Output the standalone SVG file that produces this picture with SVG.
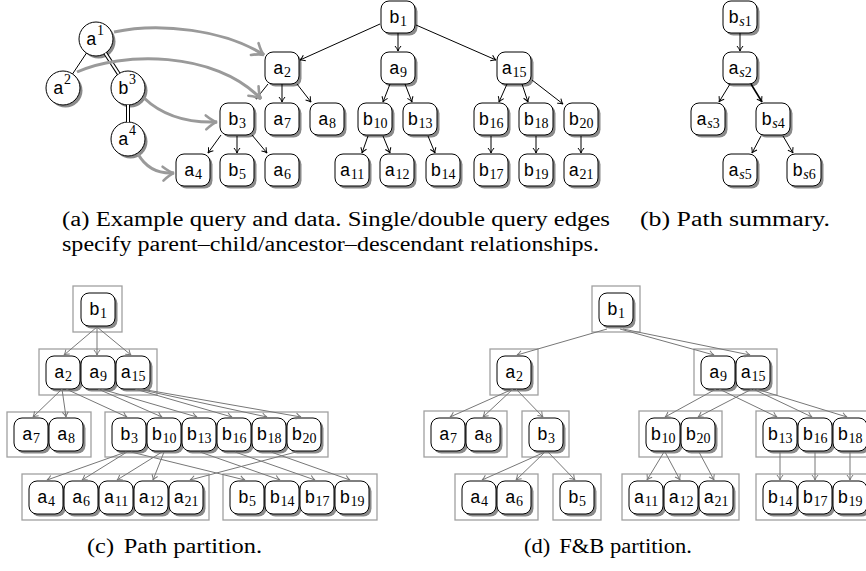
<svg xmlns="http://www.w3.org/2000/svg" xmlns:xlink="http://www.w3.org/1999/xlink" width="866" height="571" viewBox="0 0 866 571">
<style>
.nd{fill:#fff;stroke:#000;stroke-width:1}
.sh{fill:#8a8a8a;stroke:none}
.lb{font-family:"Liberation Mono",monospace;font-size:18px;text-anchor:middle;fill:#000}
.sb{font-family:"Liberation Serif",serif;font-size:14px}
.it{font-style:italic}
.grp{fill:none;stroke:#a0a0a0;stroke-width:1.3}
.be{stroke:#000;stroke-width:1;fill:none;marker-end:url(#mb)}
.ge{stroke:#777;stroke-width:1;fill:none;marker-end:url(#mg)}
.qe{stroke:#9a9a9a;stroke-width:3;fill:none;marker-end:url(#mq)}
.ql{stroke:#000;stroke-width:1;fill:none}
.qd{stroke:#000;stroke-width:4;fill:none}
.qw{stroke:#fff;stroke-width:2;fill:none}
.cap{font-family:"Liberation Serif",serif;font-size:20px;fill:#000}
</style>
<defs>
<marker id="mb" viewBox="-7 -5 9 10" refX="0" refY="0" markerWidth="9" markerHeight="10" markerUnits="userSpaceOnUse" orient="auto"><path d="M-5,-3 Q-2,-0.5 0,0 Q-2,0.5 -5,3" fill="none" stroke="#000" stroke-width="1"/></marker>
<marker id="mg" viewBox="-7 -5 9 10" refX="0" refY="0" markerWidth="9" markerHeight="10" markerUnits="userSpaceOnUse" orient="auto"><path d="M-5,-3 Q-2,-0.5 0,0 Q-2,0.5 -5,3" fill="none" stroke="#777" stroke-width="1"/></marker>
<marker id="mq" viewBox="-14 -10 17 20" refX="0" refY="0" markerWidth="17" markerHeight="20" markerUnits="userSpaceOnUse" orient="auto"><path d="M-11,-7 Q-4,-1 0,0 Q-4,1 -11,7" fill="none" stroke="#9a9a9a" stroke-width="2.6" stroke-linecap="round"/></marker>
<g id="bx"><rect class="sh" x="2.5" y="2.5" width="34" height="32" rx="8"/><rect class="nd" width="34" height="32" rx="8"/></g>
<g id="bx2"><rect class="sh" x="2.5" y="2.5" width="34" height="33" rx="8"/><rect class="nd" width="34" height="33" rx="8"/></g>
<g id="qc"><circle class="sh" cx="2.5" cy="2.5" r="17"/><circle class="nd" r="17"/></g>
</defs>
<rect width="866" height="571" fill="#fff"/>

<!-- (a) query nodes -->
<g id="q-a1" transform="translate(96,39)"><use xlink:href="#qc"/><text class="lb" x="-1" y="6">a<tspan class="sb" dy="-10">1</tspan></text></g>
<g id="q-a2" transform="translate(63,88)"><use xlink:href="#qc"/><text class="lb" x="-1" y="6">a<tspan class="sb" dy="-10">2</tspan></text></g>
<g id="q-b3" transform="translate(128,88)"><use xlink:href="#qc"/><text class="lb" x="-1" y="6">b<tspan class="sb" dy="-10">3</tspan></text></g>
<g id="q-a4" transform="translate(128,139)"><use xlink:href="#qc"/><text class="lb" x="-1" y="6">a<tspan class="sb" dy="-10">4</tspan></text></g>

<!-- (a) data nodes -->
<g id="a-b1" transform="translate(381,1)"><use xlink:href="#bx"/><text class="lb" x="17" y="22">b<tspan class="sb" dy="3">1</tspan></text></g>
<g id="a-a2" transform="translate(265,52)"><use xlink:href="#bx"/><text class="lb" x="17" y="22">a<tspan class="sb" dy="3">2</tspan></text></g>
<g id="a-a9" transform="translate(381,52)"><use xlink:href="#bx"/><text class="lb" x="17" y="22">a<tspan class="sb" dy="3">9</tspan></text></g>
<g id="a-a15" transform="translate(497,52)"><use xlink:href="#bx"/><text class="lb" x="17" y="22">a<tspan class="sb" dy="3">15</tspan></text></g>
<g id="a-b3" transform="translate(220,103)"><use xlink:href="#bx"/><text class="lb" x="17" y="22">b<tspan class="sb" dy="3">3</tspan></text></g>
<g id="a-a7" transform="translate(265,103)"><use xlink:href="#bx"/><text class="lb" x="17" y="22">a<tspan class="sb" dy="3">7</tspan></text></g>
<g id="a-a8" transform="translate(310,103)"><use xlink:href="#bx"/><text class="lb" x="17" y="22">a<tspan class="sb" dy="3">8</tspan></text></g>
<g id="a-b10" transform="translate(358,103)"><use xlink:href="#bx"/><text class="lb" x="17" y="22">b<tspan class="sb" dy="3">10</tspan></text></g>
<g id="a-b13" transform="translate(403,103)"><use xlink:href="#bx"/><text class="lb" x="17" y="22">b<tspan class="sb" dy="3">13</tspan></text></g>
<g id="a-b16" transform="translate(474,103)"><use xlink:href="#bx"/><text class="lb" x="17" y="22">b<tspan class="sb" dy="3">16</tspan></text></g>
<g id="a-b18" transform="translate(519,103)"><use xlink:href="#bx"/><text class="lb" x="17" y="22">b<tspan class="sb" dy="3">18</tspan></text></g>
<g id="a-b20" transform="translate(564,103)"><use xlink:href="#bx"/><text class="lb" x="17" y="22">b<tspan class="sb" dy="3">20</tspan></text></g>
<g id="a-a4" transform="translate(176,154)"><use xlink:href="#bx"/><text class="lb" x="17" y="22">a<tspan class="sb" dy="3">4</tspan></text></g>
<g id="a-b5" transform="translate(220,154)"><use xlink:href="#bx"/><text class="lb" x="17" y="22">b<tspan class="sb" dy="3">5</tspan></text></g>
<g id="a-a6" transform="translate(265,154)"><use xlink:href="#bx"/><text class="lb" x="17" y="22">a<tspan class="sb" dy="3">6</tspan></text></g>
<g id="a-a11" transform="translate(335,154)"><use xlink:href="#bx"/><text class="lb" x="17" y="22">a<tspan class="sb" dy="3">11</tspan></text></g>
<g id="a-a12" transform="translate(380,154)"><use xlink:href="#bx"/><text class="lb" x="17" y="22">a<tspan class="sb" dy="3">12</tspan></text></g>
<g id="a-b14" transform="translate(426,154)"><use xlink:href="#bx"/><text class="lb" x="17" y="22">b<tspan class="sb" dy="3">14</tspan></text></g>
<g id="a-b17" transform="translate(474,154)"><use xlink:href="#bx"/><text class="lb" x="17" y="22">b<tspan class="sb" dy="3">17</tspan></text></g>
<g id="a-b19" transform="translate(519,154)"><use xlink:href="#bx"/><text class="lb" x="17" y="22">b<tspan class="sb" dy="3">19</tspan></text></g>
<g id="a-a21" transform="translate(564,154)"><use xlink:href="#bx"/><text class="lb" x="17" y="22">a<tspan class="sb" dy="3">21</tspan></text></g>

<!-- (b) path summary nodes -->
<g id="b-bs1" transform="translate(723,1)"><use xlink:href="#bx"/><text class="lb" x="17" y="22">b<tspan class="sb" dy="3"><tspan class="it">s</tspan>1</tspan></text></g>
<g id="b-as2" transform="translate(723,52)"><use xlink:href="#bx"/><text class="lb" x="17" y="22">a<tspan class="sb" dy="3"><tspan class="it">s</tspan>2</tspan></text></g>
<g id="b-as3" transform="translate(691,103)"><use xlink:href="#bx"/><text class="lb" x="17" y="22">a<tspan class="sb" dy="3"><tspan class="it">s</tspan>3</tspan></text></g>
<g id="b-bs4" transform="translate(756,103)"><use xlink:href="#bx"/><text class="lb" x="17" y="22">b<tspan class="sb" dy="3"><tspan class="it">s</tspan>4</tspan></text></g>
<g id="b-as5" transform="translate(723,154)"><use xlink:href="#bx"/><text class="lb" x="17" y="22">a<tspan class="sb" dy="3"><tspan class="it">s</tspan>5</tspan></text></g>
<g id="b-bs6" transform="translate(787,154)"><use xlink:href="#bx"/><text class="lb" x="17" y="22">b<tspan class="sb" dy="3"><tspan class="it">s</tspan>6</tspan></text></g>

<!-- partition blocks -->
<g id="blocks">
<rect class="grp" x="73" y="286" width="49" height="46"/>
<rect class="grp" x="39" y="349" width="118" height="46"/>
<rect class="grp" x="7" y="412" width="84" height="45"/>
<rect class="grp" x="105" y="412" width="223" height="45"/>
<rect class="grp" x="22" y="474" width="187" height="46"/>
<rect class="grp" x="223" y="474" width="154" height="46"/>
<rect class="grp" x="592" y="286" width="48" height="46"/>
<rect class="grp" x="490" y="349" width="48" height="46"/>
<rect class="grp" x="694" y="349" width="83" height="46"/>
<rect class="grp" x="424" y="411" width="83" height="46"/>
<rect class="grp" x="522" y="411" width="47" height="46"/>
<rect class="grp" x="639" y="411" width="83" height="46"/>
<rect class="grp" x="756" y="411" width="118" height="46"/>
<rect class="grp" x="455" y="474" width="83" height="46"/>
<rect class="grp" x="553" y="474" width="48" height="46"/>
<rect class="grp" x="622" y="474" width="117" height="46"/>
<rect class="grp" x="756" y="474" width="118" height="46"/>
</g>

<!-- (c) nodes -->
<g id="c-b1" transform="translate(81,293)"><use xlink:href="#bx2"/><text class="lb" x="17" y="22">b<tspan class="sb" dy="3">1</tspan></text></g>
<g id="c-a2" transform="translate(46,356)"><use xlink:href="#bx2"/><text class="lb" x="17" y="22">a<tspan class="sb" dy="3">2</tspan></text></g>
<g id="c-a9" transform="translate(81,356)"><use xlink:href="#bx2"/><text class="lb" x="17" y="22">a<tspan class="sb" dy="3">9</tspan></text></g>
<g id="c-a15" transform="translate(116,356)"><use xlink:href="#bx2"/><text class="lb" x="17" y="22">a<tspan class="sb" dy="3">15</tspan></text></g>
<g id="c-a7" transform="translate(14,418)"><use xlink:href="#bx2"/><text class="lb" x="17" y="22">a<tspan class="sb" dy="3">7</tspan></text></g>
<g id="c-a8" transform="translate(49,418)"><use xlink:href="#bx2"/><text class="lb" x="17" y="22">a<tspan class="sb" dy="3">8</tspan></text></g>
<g id="c-b3" transform="translate(112,418)"><use xlink:href="#bx2"/><text class="lb" x="17" y="22">b<tspan class="sb" dy="3">3</tspan></text></g>
<g id="c-b10" transform="translate(147,418)"><use xlink:href="#bx2"/><text class="lb" x="17" y="22">b<tspan class="sb" dy="3">10</tspan></text></g>
<g id="c-b13" transform="translate(182,418)"><use xlink:href="#bx2"/><text class="lb" x="17" y="22">b<tspan class="sb" dy="3">13</tspan></text></g>
<g id="c-b16" transform="translate(217,418)"><use xlink:href="#bx2"/><text class="lb" x="17" y="22">b<tspan class="sb" dy="3">16</tspan></text></g>
<g id="c-b18" transform="translate(252,418)"><use xlink:href="#bx2"/><text class="lb" x="17" y="22">b<tspan class="sb" dy="3">18</tspan></text></g>
<g id="c-b20" transform="translate(287,418)"><use xlink:href="#bx2"/><text class="lb" x="17" y="22">b<tspan class="sb" dy="3">20</tspan></text></g>
<g id="c-a4" transform="translate(29,481)"><use xlink:href="#bx2"/><text class="lb" x="17" y="22">a<tspan class="sb" dy="3">4</tspan></text></g>
<g id="c-a6" transform="translate(64,481)"><use xlink:href="#bx2"/><text class="lb" x="17" y="22">a<tspan class="sb" dy="3">6</tspan></text></g>
<g id="c-a11" transform="translate(99,481)"><use xlink:href="#bx2"/><text class="lb" x="17" y="22">a<tspan class="sb" dy="3">11</tspan></text></g>
<g id="c-a12" transform="translate(134,481)"><use xlink:href="#bx2"/><text class="lb" x="17" y="22">a<tspan class="sb" dy="3">12</tspan></text></g>
<g id="c-a21" transform="translate(169,481)"><use xlink:href="#bx2"/><text class="lb" x="17" y="22">a<tspan class="sb" dy="3">21</tspan></text></g>
<g id="c-b5" transform="translate(230,481)"><use xlink:href="#bx2"/><text class="lb" x="17" y="22">b<tspan class="sb" dy="3">5</tspan></text></g>
<g id="c-b14" transform="translate(265,481)"><use xlink:href="#bx2"/><text class="lb" x="17" y="22">b<tspan class="sb" dy="3">14</tspan></text></g>
<g id="c-b17" transform="translate(300,481)"><use xlink:href="#bx2"/><text class="lb" x="17" y="22">b<tspan class="sb" dy="3">17</tspan></text></g>
<g id="c-b19" transform="translate(335,481)"><use xlink:href="#bx2"/><text class="lb" x="17" y="22">b<tspan class="sb" dy="3">19</tspan></text></g>

<!-- (d) nodes -->
<g id="d-b1" transform="translate(599,293)"><use xlink:href="#bx2"/><text class="lb" x="17" y="22">b<tspan class="sb" dy="3">1</tspan></text></g>
<g id="d-a2" transform="translate(497,356)"><use xlink:href="#bx2"/><text class="lb" x="17" y="22">a<tspan class="sb" dy="3">2</tspan></text></g>
<g id="d-a9" transform="translate(701,356)"><use xlink:href="#bx2"/><text class="lb" x="17" y="22">a<tspan class="sb" dy="3">9</tspan></text></g>
<g id="d-a15" transform="translate(736,356)"><use xlink:href="#bx2"/><text class="lb" x="17" y="22">a<tspan class="sb" dy="3">15</tspan></text></g>
<g id="d-a7" transform="translate(431,418)"><use xlink:href="#bx2"/><text class="lb" x="17" y="22">a<tspan class="sb" dy="3">7</tspan></text></g>
<g id="d-a8" transform="translate(466,418)"><use xlink:href="#bx2"/><text class="lb" x="17" y="22">a<tspan class="sb" dy="3">8</tspan></text></g>
<g id="d-b3" transform="translate(529,418)"><use xlink:href="#bx2"/><text class="lb" x="17" y="22">b<tspan class="sb" dy="3">3</tspan></text></g>
<g id="d-b10" transform="translate(646,418)"><use xlink:href="#bx2"/><text class="lb" x="17" y="22">b<tspan class="sb" dy="3">10</tspan></text></g>
<g id="d-b20" transform="translate(681,418)"><use xlink:href="#bx2"/><text class="lb" x="17" y="22">b<tspan class="sb" dy="3">20</tspan></text></g>
<g id="d-b13" transform="translate(763,418)"><use xlink:href="#bx2"/><text class="lb" x="17" y="22">b<tspan class="sb" dy="3">13</tspan></text></g>
<g id="d-b16" transform="translate(798,418)"><use xlink:href="#bx2"/><text class="lb" x="17" y="22">b<tspan class="sb" dy="3">16</tspan></text></g>
<g id="d-b18" transform="translate(833,418)"><use xlink:href="#bx2"/><text class="lb" x="17" y="22">b<tspan class="sb" dy="3">18</tspan></text></g>
<g id="d-a4" transform="translate(462,481)"><use xlink:href="#bx2"/><text class="lb" x="17" y="22">a<tspan class="sb" dy="3">4</tspan></text></g>
<g id="d-a6" transform="translate(497,481)"><use xlink:href="#bx2"/><text class="lb" x="17" y="22">a<tspan class="sb" dy="3">6</tspan></text></g>
<g id="d-b5" transform="translate(560,481)"><use xlink:href="#bx2"/><text class="lb" x="17" y="22">b<tspan class="sb" dy="3">5</tspan></text></g>
<g id="d-a11" transform="translate(629,481)"><use xlink:href="#bx2"/><text class="lb" x="17" y="22">a<tspan class="sb" dy="3">11</tspan></text></g>
<g id="d-a12" transform="translate(664,481)"><use xlink:href="#bx2"/><text class="lb" x="17" y="22">a<tspan class="sb" dy="3">12</tspan></text></g>
<g id="d-a21" transform="translate(699,481)"><use xlink:href="#bx2"/><text class="lb" x="17" y="22">a<tspan class="sb" dy="3">21</tspan></text></g>
<g id="d-b14" transform="translate(763,481)"><use xlink:href="#bx2"/><text class="lb" x="17" y="22">b<tspan class="sb" dy="3">14</tspan></text></g>
<g id="d-b17" transform="translate(798,481)"><use xlink:href="#bx2"/><text class="lb" x="17" y="22">b<tspan class="sb" dy="3">17</tspan></text></g>
<g id="d-b19" transform="translate(833,481)"><use xlink:href="#bx2"/><text class="lb" x="17" y="22">b<tspan class="sb" dy="3">19</tspan></text></g>

<!-- connectors -->
<g id="connectors">
<!-- query edges -->
<path class="ql" d="M86.5,53 L72.5,74"/>
<path class="qd" d="M105.3,53.2 L118.7,73.8"/><path class="qw" d="M105.3,53.2 L118.7,73.8"/>
<path class="qd" d="M128,105 L128,122"/><path class="qw" d="M128,105 L128,122"/>
<!-- data tree (a) -->
<path class="be" d="M380,24 L300,60"/>
<path class="be" d="M398,33 L398,51"/>
<path class="be" d="M416,25 L496,60"/>
<path class="be" d="M268,84 L256,99"/>
<path class="be" d="M282,84 L282,102"/>
<path class="be" d="M297,84 L311,102"/>
<path class="be" d="M390,84 L383,102"/>
<path class="be" d="M405,84 L412,102"/>
<path class="be" d="M507,84 L499,102"/>
<path class="be" d="M522,84 L528,102"/>
<path class="be" d="M532,80 L563,104"/>
<path class="be" d="M221,135 L208,153"/>
<path class="be" d="M237,136 L237,153"/>
<path class="be" d="M252,135 L267,153"/>
<path class="be" d="M368,136 L362,153"/>
<path class="be" d="M383,136 L390,153"/>
<path class="be" d="M428,136 L435,153"/>
<path class="be" d="M491,136 L491,153"/>
<path class="be" d="M536,136 L536,153"/>
<path class="be" d="M581,136 L581,153"/>
<!-- query-to-data mappings -->
<path class="qe" d="M114,32 C160,22 225,30 264,55"/>
<path class="qe" d="M77,72 C120,52 215,50 261,99"/>
<path class="qe" d="M144,98 C165,118 190,123 217,122"/>
<path class="qe" d="M138,154 C146,168 158,174 174,173"/>
<!-- (b) -->
<path class="be" d="M740,33 L740,51"/>
<path class="be" d="M730,84 L719,102"/>
<path class="be" d="M751,84 L762,102" style="stroke-width:1.6"/>
<path class="be" d="M761,136 L752,153"/>
<path class="be" d="M783,136 L793,153"/>
<!-- (c) -->
<path class="ge" d="M97,327 L64,355"/>
<path class="ge" d="M97,327 L97,355"/>
<path class="ge" d="M97,327 L131,355"/>
<path class="ge" d="M62,389 L33,417"/>
<path class="ge" d="M62,389 L66,417"/>
<path class="ge" d="M66,389 L127,417"/>
<path class="ge" d="M98,389 L162,417"/>
<path class="ge" d="M101,389 L197,417"/>
<path class="ge" d="M135,389 L232,417"/>
<path class="ge" d="M138,389 L267,417"/>
<path class="ge" d="M141,389 L301,417"/>
<path class="ge" d="M126,452 L47,480"/>
<path class="ge" d="M127,452 L82,480"/>
<path class="ge" d="M131,452 L245,480"/>
<path class="ge" d="M162,452 L117,480"/>
<path class="ge" d="M164,452 L153,480"/>
<path class="ge" d="M200,452 L280,480"/>
<path class="ge" d="M235,452 L315,480"/>
<path class="ge" d="M271,452 L350,480"/>
<path class="ge" d="M296,452 L190,480"/>
<!-- (d) -->
<path class="ge" d="M607,329 L517,355"/>
<path class="ge" d="M620,329 L714,355"/>
<path class="ge" d="M623,329 L750,355"/>
<path class="ge" d="M513,389 L450,417"/>
<path class="ge" d="M513,389 L483,417"/>
<path class="ge" d="M516,389 L543,417"/>
<path class="ge" d="M716,389 L665,417"/>
<path class="ge" d="M719,389 L777,417"/>
<path class="ge" d="M752,389 L698,417"/>
<path class="ge" d="M753,389 L812,417"/>
<path class="ge" d="M756,389 L847,417"/>
<path class="ge" d="M545,452 L482,480"/>
<path class="ge" d="M545,452 L516,480"/>
<path class="ge" d="M548,452 L575,480"/>
<path class="ge" d="M664,452 L647,480"/>
<path class="ge" d="M665,452 L680,480"/>
<path class="ge" d="M699,452 L714,480"/>
<path class="ge" d="M780,452 L780,480"/>
<path class="ge" d="M815,452 L815,480"/>
<path class="ge" d="M850,452 L850,480"/>
</g>

<!-- captions -->
<g id="captions">
<text class="cap" x="62" y="226" textLength="548" lengthAdjust="spacingAndGlyphs">(a)  Example query and data. Single/double query edges</text>
<text class="cap" x="62" y="251" textLength="537" lengthAdjust="spacingAndGlyphs">specify parent–child/ancestor–descendant relationships.</text>
<text class="cap" x="640" y="226" textLength="190" lengthAdjust="spacingAndGlyphs">(b) Path summary.</text>
<text class="cap" x="87" y="553" textLength="175" lengthAdjust="spacingAndGlyphs">(c)<tspan dx="8">Path partition.</tspan></text>
<text class="cap" x="524" y="553" textLength="168" lengthAdjust="spacingAndGlyphs">(d)<tspan dx="8">F&amp;B partition.</tspan></text>
</g>
</svg>
